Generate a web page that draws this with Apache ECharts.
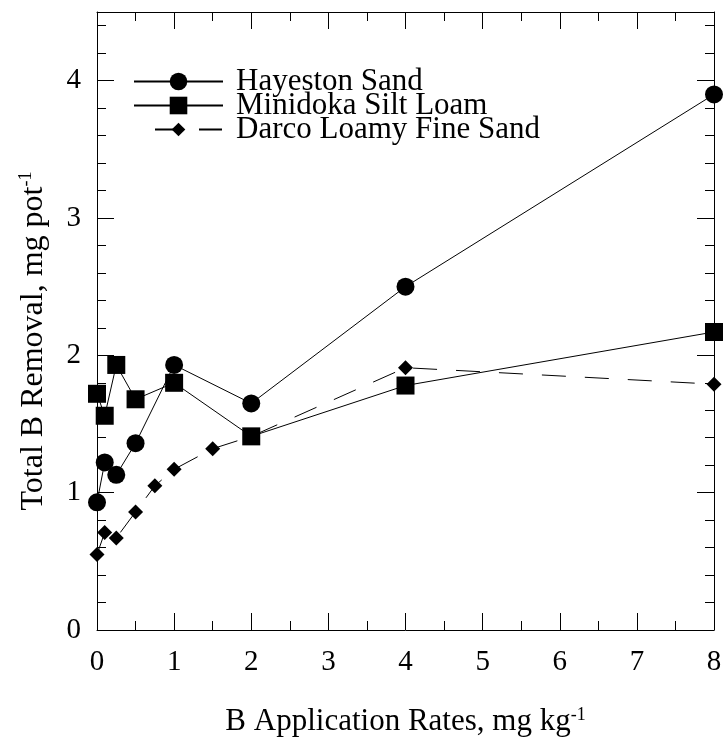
<!DOCTYPE html>
<html lang="en">
<head>
    <meta charset="UTF-8">
    <title>Total B Removal</title>
    <script src="https://cdn.jsdelivr.net/npm/echarts@6/dist/echarts.min.js"></script>
    <style>
        body { margin: 0; background: #fff; }
    </style>
</head>
<body>
<div id="main" style="width: 727px;height:740px;"></div>
<script type="text/javascript">
    // B application rates (mg/kg) and removal (mg/pot)
    var hayestonX = [0, 0.1, 0.25, 0.5, 1, 2, 4, 8];
    var hayestonY = [0.93, 1.22, 1.13, 1.36, 1.93, 1.65, 2.50, 3.90];

    var minidokaX = [0, 0.1, 0.25, 0.5, 1, 2, 4, 8];
    var minidokaY = [1.72, 1.56, 1.93, 1.68, 1.80, 1.41, 1.78, 2.17];

    var darcoX = [0, 0.1, 0.25, 0.5, 0.75, 1, 1.5, 2, 4, 8];
    var darcoY = [0.55, 0.71, 0.67, 0.86, 1.05, 1.17, 1.32, 1.41, 1.91, 1.79];

    var seriesNames = ['Hayeston Sand', 'Minidoka Silt Loam', 'Darco Loamy Fine Sand'];

    function pairs(xs, ys) {
        var out = [];
        for (var i = 0; i < xs.length; i++) out.push([xs[i], ys[i]]);
        return out;
    }

    var font = '"Liberation Serif", "Times New Roman", serif';
    var black = '#000';

    var myChart = echarts.init(document.getElementById('main'));

    // axis line, never moved onto the zero of the other axis
    var lineAxis = { show: true, onZero: false, lineStyle: { color: black, width: 1 } };
    var noLine = { show: false, onZero: false };
    var supStyle = { fontFamily: font, fontSize: 18, color: black, verticalAlign: 'top', lineHeight: 16 };

    // one legend per row so the rows can sit closer than the text height
    function legendRow(idx, top, iconH, extra) {
        var lg = {
            orient: 'vertical',
            left: 133,
            top: top,
            padding: 0,
            itemWidth: 89,
            itemHeight: iconH,
            data: [seriesNames[idx]],
            textStyle: {
                fontFamily: font,
                fontSize: 31,
                color: black,
                padding: [0, 0, 0, 8]
            }
        };
        if (extra) lg.lineStyle = extra;
        return lg;
    }

    myChart.setOption({
        backgroundColor: '#fff',
        animation: false,
        grid: { left: 97, right: 13, top: 12, bottom: 110, containLabel: false, outerBoundsMode: 'none' },
        legend: [
            legendRow(0, 66, 22),
            legendRow(1, 90, 22),
            legendRow(2, 114, 17, { type: [23, 21], dashOffset: 23 })
        ],
        xAxis: [
            {
                type: 'value', position: 'bottom', min: 0, max: 8, interval: 1,
                name: 'B Application Rates, mg kg{sup|-1}',
                nameLocation: 'middle', nameGap: 76,
                nameTextStyle: {
                    fontFamily: font, fontSize: 31, color: black, lineHeight: 32,
                    rich: { sup: supStyle }
                },
                axisLine: lineAxis,
                axisTick: { inside: true, length: 17, lineStyle: { color: black } },
                minorTick: { show: true, splitNumber: 2, length: 9, lineStyle: { color: black } },
                axisLabel: { fontFamily: font, fontSize: 29, color: black, margin: 18 },
                splitLine: { show: false }
            },
            {
                type: 'value', position: 'top', min: 0, max: 8, interval: 1,
                axisLine: lineAxis,
                axisTick: { inside: true, length: 17, lineStyle: { color: black } },
                minorTick: { show: true, splitNumber: 2, length: 9, lineStyle: { color: black } },
                axisLabel: { show: false },
                splitLine: { show: false }
            }
        ],
        yAxis: [
            {
                type: 'value', position: 'left', min: 0, max: 4.5, interval: 1,
                name: 'Total B Removal, mg pot{sup|-1}',
                nameLocation: 'middle', nameGap: 46,
                nameTextStyle: {
                    fontFamily: font, fontSize: 32, color: black, lineHeight: 34,
                    padding: [0, 40, 0, 0],
                    rich: { sup: supStyle }
                },
                axisLine: lineAxis,
                axisTick: { inside: true, length: 17, lineStyle: { color: black } },
                axisLabel: { fontFamily: font, fontSize: 29, color: black, margin: 16, showMaxLabel: false },
                splitLine: { show: false }
            },
            {
                type: 'value', position: 'right', min: 0, max: 4.5, interval: 1,
                axisLine: lineAxis,
                axisTick: { inside: true, length: 17, lineStyle: { color: black } },
                axisLabel: { show: false },
                splitLine: { show: false }
            },
            {   // minor ticks every 0.2, left
                type: 'value', position: 'left', min: 0, max: 4.5, interval: 0.2,
                axisLine: noLine,
                axisTick: { inside: true, length: 9, lineStyle: { color: black } },
                axisLabel: { show: false },
                splitLine: { show: false }
            },
            {   // minor ticks every 0.2, right
                type: 'value', position: 'right', min: 0, max: 4.5, interval: 0.2,
                axisLine: noLine,
                axisTick: { inside: true, length: 9, lineStyle: { color: black } },
                axisLabel: { show: false },
                splitLine: { show: false }
            }
        ],
        series: [
            {
                name: seriesNames[0], type: 'line',
                data: pairs(hayestonX, hayestonY),
                symbol: 'circle', symbolSize: 18,
                itemStyle: { color: black },
                lineStyle: { color: black, width: 1 }
            },
            {
                name: seriesNames[1], type: 'line',
                data: pairs(minidokaX, minidokaY),
                symbol: 'rect', symbolSize: 18,
                itemStyle: { color: black },
                lineStyle: { color: black, width: 1 }
            },
            {
                name: seriesNames[2], type: 'line',
                data: pairs(darcoX, darcoY),
                symbol: 'diamond', symbolSize: 15,
                itemStyle: { color: black },
                lineStyle: { color: black, width: 1, type: [24, 19] }
            }
        ]
    });
</script>
</body>
</html>
